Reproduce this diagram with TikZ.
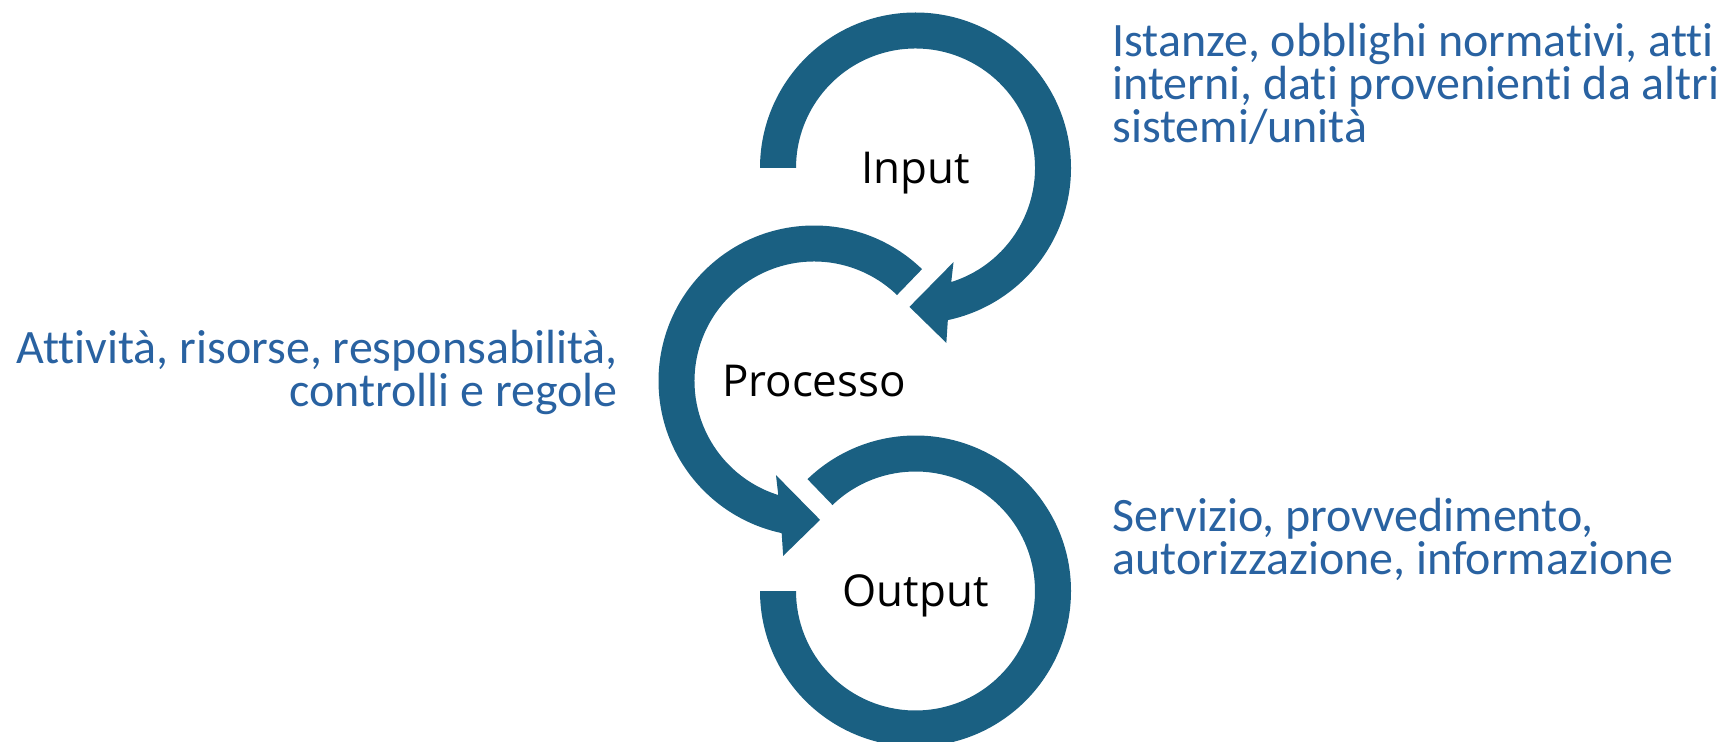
\documentclass[tikz,border=0pt]{standalone}
\usepackage{fontspec}
\setmainfont{Open Sans}
\newfontfamily\notefont[Ligatures={NoCommon,NoRequired,NoContextual}]{Carlito}
\usetikzlibrary{positioning}
\definecolor{ringblue}{HTML}{1A6082}
\definecolor{noteblue}{HTML}{2962A1}

\begin{document}
\begin{tikzpicture}[x=0.02cm,y=0.02cm,
 ring/.style={fill=ringblue,draw=none},
 stage/.style={font=\fontsize{25}{30}\selectfont,text=black,inner sep=0pt,text height=17.9pt,text depth=0pt},
 note/.style={font=\notefont\fontsize{27.3}{22.8}\selectfont,text=noteblue,inner sep=0pt}]
\useasboundingbox (0,0) rectangle (1727,741);
\coordinate (cin) at (915.5,573);
\coordinate (cproc) at (814,360);
\coordinate (cout) at (915.5,150);
% input ring, clockwise into processo
\fill[ring,shift={(cin)}] (180:155.5) arc[start angle=180,end angle=-78,radius=155.5]
  -- (-80:177.6) -- (-92.5:139) -- (-68:101.5) -- (-72.6:119.5)
  arc[start angle=-72.6,end angle=180,radius=119.5] -- cycle;
% processo ring, counterclockwise into output
\fill[ring,shift={(cproc)}] (46:155.5) arc[start angle=46,end angle=258,radius=155.5]
  -- (260:177.6) -- (272.5:139) -- (248:101.5) -- (252.6:119.5)
  arc[start angle=252.6,end angle=46,radius=119.5] -- cycle;
% output ring, open at top left
\fill[ring,shift={(cout)}] (180:155.5) arc[start angle=180,end angle=494,radius=155.5]
  -- (134:119.5) arc[start angle=134,end angle=-180,radius=119.5] -- cycle;
\node[stage] (input) at (cin) {Input};
\node[stage] (processo) at (cproc) {Processo};
\node[stage] (output) at (cout) {Output};
\node[note,align=left,anchor=north west] (fonti) at (1112,718) {Istanze, obblighi normativi, atti\\interni, dati provenienti da altri\\sistemi/unità};
\node[note,align=right,anchor=north east] (risorse) at (618,411) {Attività, risorse, responsabilità,\\controlli e regole};
\node[note,align=left,anchor=north west] (esiti) at (1112,243) {Servizio, provvedimento,\\autorizzazione, informazione};
\end{tikzpicture}
\end{document}
